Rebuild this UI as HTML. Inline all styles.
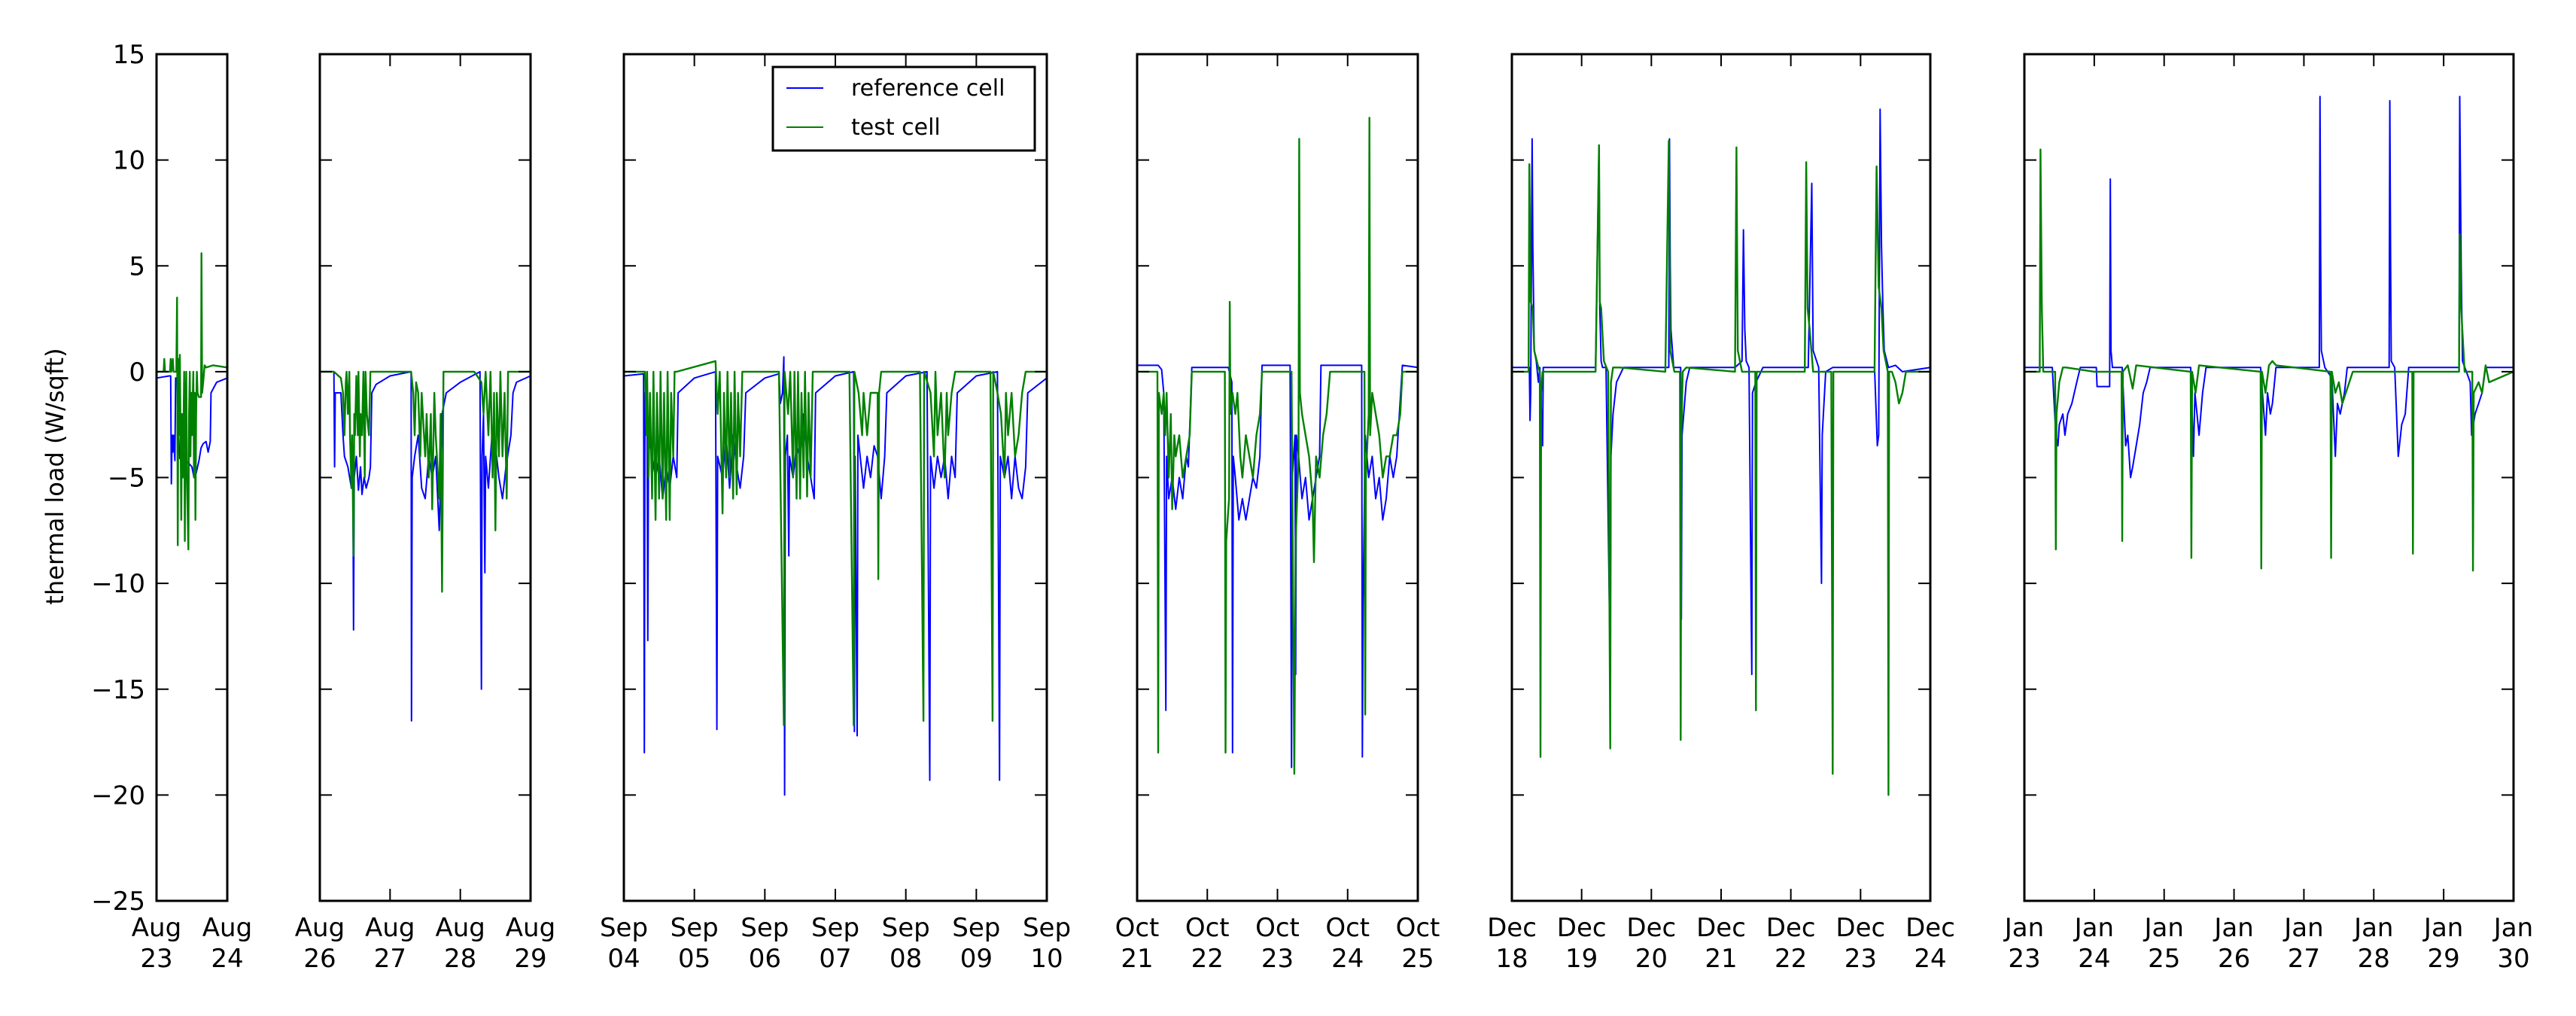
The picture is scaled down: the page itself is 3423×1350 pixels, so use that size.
<!DOCTYPE html>
<html><head><meta charset="utf-8"><style>
html,body{margin:0;padding:0;background:#fff}
svg{display:block;font-family:"DejaVu Sans","Liberation Sans",sans-serif}
</style></head><body>
<svg id="chart" width="3423" height="1350" viewBox="0 0 3423 1350" xmlns="http://www.w3.org/2000/svg">
<rect x="0" y="0" width="3423" height="1350" fill="#fff"/>
<g id="panels"></g>
<text transform="translate(84,633) rotate(-90)" text-anchor="middle" font-size="32">thermal load (W/sqft)</text>
<g>
<rect x="1027" y="89" width="348" height="111" fill="#fff" stroke="#000" stroke-width="3"/>
<line x1="1045" y1="117" x2="1094" y2="117" stroke="#0000ff" stroke-width="2"/>
<text x="1131" y="127" font-size="30">reference cell</text>
<line x1="1045" y1="169" x2="1094" y2="169" stroke="#008000" stroke-width="2"/>
<text x="1131" y="179" font-size="30">test cell</text>
</g>
</svg>
<script>
// y axis
const yTicks = [15, 10, 5, 0, -5, -10, -15, -20, -25];
const yTickLabels = ["15", "10", "5", "0", "\u22125", "\u221210", "\u221215", "\u221220", "\u221225"];
// panel categories
const panelMonths = ["Aug", "Aug", "Sep", "Oct", "Dec", "Jan"];
const panelStartDays = [23, 26, 4, 21, 18, 23];
const panelDays = [1, 3, 6, 4, 6, 7];
// series: [day offset, W/sqft]
const ref1 = [[0,-0.3],[0.18,-0.2],[0.2,-0.2],[0.21,-5.3],[0.22,-3],[0.23,-3.8],[0.24,-3],[0.26,-4.2],[0.27,-0.3],[0.29,-0.3],[0.3,-4],[0.31,-3],[0.33,-4.1],[0.35,-3],[0.37,-4],[0.4,-4.2],[0.45,-4.3],[0.5,-4.5],[0.53,-5],[0.56,-4.8],[0.6,-4.2],[0.63,-3.6],[0.66,-3.4],[0.7,-3.3],[0.73,-3.8],[0.76,-3.3],[0.77,-1],[0.85,-0.5],[1,-0.3]];
const test1 = [[0,0],[0.1,0],[0.11,0.6],[0.12,0],[0.19,0],[0.2,0.6],[0.21,0],[0.23,0.6],[0.24,0],[0.28,0],[0.29,3.5],[0.3,-8.2],[0.31,0.6],[0.32,-3],[0.33,0.8],[0.35,-7],[0.36,-2],[0.37,-5],[0.38,-3],[0.39,0],[0.4,-8],[0.41,-2],[0.42,0],[0.43,-5],[0.45,-8.4],[0.46,-2],[0.47,0],[0.48,-4],[0.49,-1],[0.5,-3],[0.52,0],[0.53,-5],[0.54,-1],[0.55,-7],[0.56,-2],[0.57,0],[0.58,-1],[0.6,-1.2],[0.63,-1.2],[0.635,5.6],[0.645,-1],[0.66,-0.5],[0.68,0.3],[0.7,0.2],[0.8,0.3],[1,0.2]];
const ref2 = [[0,0],[0.2,0],[0.21,-4.5],[0.22,-1],[0.3,-1],[0.33,-3],[0.35,-4],[0.4,-4.5],[0.45,-5.5],[0.47,-5],[0.48,-12.2],[0.49,-5],[0.52,-4],[0.55,-5.6],[0.58,-4.5],[0.6,-5.8],[0.63,-5],[0.66,-5.5],[0.7,-5],[0.72,-4.5],[0.74,-1],[0.8,-0.6],[1.0,-0.2],[1.3,0],[1.305,-16.5],[1.315,-5],[1.35,-4],[1.4,-3],[1.45,-5.5],[1.5,-6],[1.55,-4],[1.6,-5],[1.65,-4],[1.7,-7.5],[1.72,-5],[1.74,-2],[1.8,-1],[2.0,-0.5],[2.28,0],[2.3,-15],[2.31,-4],[2.33,-2],[2.35,-9.5],[2.36,-4],[2.4,-5.5],[2.45,-3],[2.5,-3.5],[2.55,-5],[2.6,-6],[2.65,-4.5],[2.72,-3],[2.75,-1],[2.8,-0.5],[3,-0.2]];
const test2 = [[0,0],[0.2,0],[0.3,-0.3],[0.33,-1],[0.35,-3],[0.37,-0.5],[0.38,0],[0.4,-2],[0.42,0],[0.43,-3],[0.45,-5.5],[0.46,-3],[0.48,-8.7],[0.49,-2],[0.5,-3],[0.52,-0.2],[0.54,-3],[0.55,0],[0.57,-4],[0.58,-2],[0.6,-3],[0.62,0],[0.64,-5],[0.65,0],[0.67,-2],[0.7,-3],[0.72,0],[0.75,0],[1.3,0],[1.33,-1],[1.35,-3],[1.37,-0.5],[1.4,-1],[1.43,-4],[1.45,-1],[1.5,-4],[1.52,-2],[1.55,-5],[1.58,-2],[1.6,-6.5],[1.63,-1],[1.65,-3],[1.7,-6],[1.72,-2],[1.74,-10.4],[1.76,0],[2.2,0],[2.3,-0.5],[2.33,-2],[2.36,0],[2.4,-3],[2.43,0],[2.46,-5],[2.48,-1],[2.5,-7.5],[2.52,-1],[2.55,-4],[2.57,0],[2.6,-4],[2.63,-1],[2.66,-6],[2.68,0],[2.7,0],[3,0]];
const ref3 = [[0,-0.2],[0.28,-0.1],[0.29,-18],[0.3,-1],[0.33,-3],[0.34,-12.7],[0.35,-3],[0.4,-4],[0.45,-5],[0.5,-4],[0.55,-6],[0.6,-4.5],[0.65,-5.5],[0.7,-4],[0.75,-5],[0.77,-1],[1.0,-0.3],[1.3,0],[1.32,-16.9],[1.33,-4],[1.4,-5],[1.45,-3],[1.5,-5.5],[1.55,-3],[1.6,-4.5],[1.65,-5.5],[1.7,-4],[1.73,-1],[2.0,-0.3],[2.2,-0.1],[2.22,-1.5],[2.25,-1],[2.27,0.7],[2.28,-20],[2.29,-4],[2.32,-3],[2.34,-8.7],[2.35,-4],[2.4,-5],[2.45,-3.5],[2.5,-4],[2.55,-2],[2.6,-4],[2.65,-5],[2.7,-6],[2.72,-1],[3.0,-0.2],[3.26,0],[3.27,-17],[3.28,-4],[3.31,-17.2],[3.32,-3],[3.4,-5.5],[3.45,-4],[3.5,-5],[3.55,-3.5],[3.6,-4],[3.65,-6],[3.7,-4],[3.73,-1],[4.0,-0.2],[4.3,0],[4.34,-19.3],[4.35,-4],[4.4,-5.5],[4.45,-4],[4.5,-5],[4.55,-4],[4.6,-6],[4.65,-4],[4.7,-5],[4.73,-1],[5.0,-0.2],[5.3,0],[5.33,-19.3],[5.34,-4],[5.4,-5],[5.45,-4],[5.5,-6],[5.55,-4],[5.6,-5.5],[5.65,-6],[5.7,-4.5],[5.73,-1],[6,-0.3]];
const test3 = [[0,0],[0.3,0],[0.32,-3],[0.33,0],[0.35,-5],[0.37,-1],[0.4,-6],[0.42,0],[0.45,-7],[0.47,-1],[0.5,-6],[0.52,0],[0.55,-6],[0.57,-1],[0.6,-7],[0.62,0],[0.65,-7],[0.67,-1],[0.7,-4],[0.72,0],[0.75,0],[1.3,0.5],[1.33,-2],[1.36,0],[1.4,-6.7],[1.42,-1],[1.45,-5],[1.47,0],[1.5,-5],[1.52,-1],[1.55,-6],[1.57,0],[1.6,-5.8],[1.62,-1],[1.65,-4],[1.68,0],[1.7,0],[2.2,0],[2.27,-16.7],[2.28,0],[2.33,-2],[2.36,0],[2.4,-5],[2.42,0],[2.45,-6],[2.47,0],[2.5,-6],[2.52,-1],[2.55,-5],[2.57,0],[2.6,-5.9],[2.62,-1],[2.65,-5],[2.68,0],[2.7,0],[3.2,0],[3.26,-16.7],[3.27,0],[3.33,-1],[3.38,-3],[3.4,-1],[3.45,-3],[3.5,-1],[3.6,-1],[3.61,-9.8],[3.62,-1],[3.65,0],[3.75,0],[4.2,0],[4.25,-16.5],[4.26,0],[4.35,-1],[4.4,-4],[4.42,0],[4.45,-3],[4.5,-1],[4.55,-5],[4.58,-1],[4.6,-3],[4.65,-1],[4.7,0],[5.2,0],[5.23,-16.5],[5.24,0],[5.3,-1],[5.35,-2],[5.4,-5],[5.42,-1],[5.45,-3],[5.5,-1],[5.55,-4],[5.6,-3],[5.65,-1],[5.7,0],[6,0]];
const ref4 = [[0,0.3],[0.3,0.3],[0.35,0.1],[0.38,-1],[0.41,-16],[0.42,-4],[0.45,-6],[0.5,-5],[0.55,-6.5],[0.6,-5],[0.65,-6],[0.7,-4],[0.73,-4.5],[0.78,0.2],[1.3,0.2],[1.35,-0.5],[1.36,-18],[1.37,-4],[1.4,-5],[1.45,-7],[1.5,-6],[1.55,-7],[1.6,-6],[1.65,-5],[1.7,-5.5],[1.75,-4],[1.78,0.3],[2.18,0.3],[2.2,-18.7],[2.21,-5],[2.25,-3],[2.26,-14.3],[2.27,-3],[2.3,-4],[2.35,-6],[2.4,-5],[2.45,-7],[2.5,-6],[2.55,-5],[2.6,-4],[2.62,0.3],[3.2,0.3],[3.21,-18.2],[3.22,-11],[3.25,-3],[3.3,-5],[3.35,-4],[3.4,-6],[3.45,-5],[3.5,-7],[3.55,-6],[3.6,-4],[3.65,-5],[3.7,-4],[3.78,0.3],[4,0.2]];
const test4 = [[0,0],[0.29,0],[0.3,-18],[0.31,-1],[0.35,-2],[0.38,-1],[0.4,-3],[0.42,-1],[0.45,-5],[0.48,-2],[0.5,-6.5],[0.53,-3],[0.55,-4],[0.6,-3],[0.65,-5],[0.7,-4],[0.75,-3],[0.78,0],[1.25,0],[1.26,-18],[1.27,-8],[1.31,-6],[1.32,3.3],[1.33,-2],[1.36,-1],[1.4,-2],[1.43,-1],[1.47,-4],[1.5,-5],[1.55,-3],[1.6,-4],[1.65,-5],[1.7,-3],[1.75,-2],[1.78,0],[2.2,0],[2.24,-19],[2.26,-8],[2.3,-4],[2.31,11],[2.32,-1],[2.35,-2],[2.4,-3],[2.45,-4],[2.5,-6],[2.52,-9],[2.55,-4],[2.6,-5],[2.65,-3],[2.7,-2],[2.75,0],[3.24,0],[3.25,-16.2],[3.26,-5],[3.3,-2],[3.31,12],[3.32,-3],[3.35,-1],[3.4,-2],[3.45,-3],[3.5,-5],[3.55,-4],[3.6,-4],[3.65,-3],[3.7,-3],[3.75,-2],[3.78,0],[4,0]];
const ref5 = [[0,0.2],[0.25,0.2],[0.26,-2.3],[0.27,-1],[0.29,11],[0.3,6],[0.32,1],[0.35,0.5],[0.38,-0.5],[0.4,0.2],[0.44,-3.5],[0.45,0.2],[0.5,0.2],[1.2,0.2],[1.25,10.7],[1.26,3],[1.28,0.5],[1.3,0.2],[1.35,0.2],[1.41,-14],[1.42,-4],[1.45,-2],[1.5,-0.5],[1.6,0.2],[2.2,0.2],[2.25,0.2],[2.26,11],[2.27,5],[2.28,2],[2.32,0.2],[2.42,0.2],[2.43,-11.7],[2.44,-3],[2.5,-0.5],[2.55,0.2],[3.2,0.2],[3.3,0.5],[3.32,6.7],[3.34,2],[3.36,0.5],[3.4,0.2],[3.44,-14.3],[3.45,-1],[3.5,-0.5],[3.6,0.2],[4.25,0.2],[4.3,8.9],[4.32,1],[4.4,0.2],[4.44,-10],[4.45,-3],[4.5,0],[4.6,0.2],[5.2,0.2],[5.24,-3.5],[5.26,-3],[5.28,12.4],[5.3,6],[5.32,3],[5.34,1],[5.4,0.2],[5.5,0.3],[5.6,0],[6,0.2]];
const test5 = [[0,0],[0.24,0],[0.25,9.8],[0.27,3.3],[0.3,3],[0.32,1],[0.38,0.2],[0.4,0],[0.41,-18.2],[0.42,-1],[0.44,0],[0.5,0],[1.2,0],[1.25,10.7],[1.26,3.3],[1.28,3],[1.32,0.5],[1.38,0],[1.41,-17.8],[1.42,-0.5],[1.45,0.2],[1.55,0.2],[2.2,0],[2.25,10.9],[2.27,1],[2.33,0],[2.41,0],[2.42,-17.4],[2.43,-3],[2.45,0],[2.5,0.2],[3.2,0],[3.22,10.6],[3.24,1],[3.3,0],[3.49,0],[3.5,-16],[3.51,0],[4.2,0],[4.22,9.9],[4.24,3],[4.27,2],[4.32,0],[4.58,0],[4.6,-19],[4.61,0],[5.2,0],[5.23,9.7],[5.26,4],[5.3,3],[5.33,1],[5.39,0],[5.4,-20],[5.41,0],[5.45,0],[5.5,-0.5],[5.55,-1.5],[5.6,-1],[5.65,0],[6,0]];
const ref6 = [[0,0.2],[0.4,0.2],[0.45,-3],[0.48,-3.5],[0.5,-2.5],[0.55,-2],[0.58,-3],[0.62,-2],[0.68,-1.5],[0.75,-0.5],[0.8,0.2],[1.03,0.2],[1.04,-0.7],[1.22,-0.7],[1.23,9.1],[1.24,1],[1.26,0.2],[1.4,0.2],[1.45,-3.5],[1.48,-3],[1.52,-5],[1.55,-4.5],[1.6,-3.5],[1.65,-2.5],[1.7,-1],[1.75,-0.5],[1.8,0.2],[2.38,0.2],[2.42,-4],[2.44,-1],[2.47,-2],[2.5,-3],[2.55,-1],[2.6,0.2],[3.38,0.2],[3.45,-3],[3.48,-1],[3.52,-2],[3.55,-1.5],[3.6,0.2],[4.22,0.2],[4.23,13],[4.24,5.5],[4.25,1],[4.3,0.2],[4.4,-0.3],[4.45,-4],[4.48,-1.5],[4.52,-2],[4.58,-1],[4.62,0.2],[5.22,0.2],[5.23,12.8],[5.24,5.5],[5.25,0.5],[5.3,0.2],[5.35,-4],[5.4,-2.5],[5.45,-2],[5.5,0.2],[6.22,0.2],[6.23,13],[6.25,5],[6.27,0.5],[6.38,-0.5],[6.4,-3],[6.45,-2],[6.5,-1.5],[6.55,-1],[6.6,0.2],[7,0.2]];
const test6 = [[0,0],[0.22,0],[0.23,10.5],[0.25,3],[0.27,0],[0.44,0],[0.45,-8.4],[0.46,-2],[0.5,-0.5],[0.55,0.2],[0.6,0.2],[1.0,0],[1.39,0],[1.4,-8],[1.41,0],[1.48,0.3],[1.55,-0.8],[1.6,0.3],[2.38,0],[2.39,-8.8],[2.4,0],[2.45,-1],[2.5,0.3],[3.38,0],[3.39,-9.3],[3.4,0],[3.45,-1],[3.5,0.3],[3.55,0.5],[3.6,0.3],[4.38,0],[4.39,-8.8],[4.4,0],[4.45,-1],[4.5,-0.5],[4.55,-1.5],[4.6,-1],[4.7,0],[5.55,0],[5.56,-8.6],[5.57,0],[6.22,0],[6.23,6.5],[6.25,3],[6.3,0],[6.41,0],[6.42,-9.4],[6.43,-1],[6.5,-0.5],[6.55,-1],[6.6,0.3],[6.65,-0.5],[7,0]];

const refSeries = [ref1, ref2, ref3, ref4, ref5, ref6];
const testSeries = [test1, test2, test3, test4, test5, test6];

const panelLeft = [208, 425, 829, 1511, 2009, 2690];
const panelRight = [302, 705, 1391, 1884, 2565, 3340];
const TOP = 72, BOTTOM = 1197, YMAX = 15, YMIN = -25;
const NS = "http://www.w3.org/2000/svg";
const root = document.getElementById("panels");
function yScale(v){ return TOP + (YMAX - v) / (YMAX - YMIN) * (BOTTOM - TOP); }
function mk(tag, attrs){ const e = document.createElementNS(NS, tag); for (const k in attrs) e.setAttribute(k, attrs[k]); return e; }
function pad(n){ return n < 10 ? "0" + n : "" + n; }

for (let p = 0; p < 6; p++) {
  const L = panelLeft[p], R = panelRight[p], nd = panelDays[p];
  const xScale = t => L + t / nd * (R - L);
  const g = mk("g", {});
  
  
  root.appendChild(g);
  const mkLine = (arr, color, w, name) => {
    const pl = mk("polyline", {points: arr.map(d => xScale(d[0]).toFixed(1) + "," + yScale(d[1]).toFixed(1)).join(" "), fill: "none", stroke: color, "stroke-width": w, "stroke-linejoin": "round"});
    
    
    g.appendChild(pl);
  };
  mkLine(refSeries[p], "#0000ff", 2, "reference-cell-line");
  mkLine(testSeries[p], "#008000", 2.4, "test-cell-line");
  yTicks.forEach((v, i) => {
    const y = yScale(v);
    const t1 = mk("path", {d: `M${L},${y}h16M${R},${y}h-16`, stroke: "#000", "stroke-width": 2});
    
    
    g.appendChild(t1);
    if (p === 0) {
      const tx = mk("text", {x: L - 15, y: y + 12, "text-anchor": "end", "font-size": 34});
      
      
      tx.textContent = yTickLabels[i];
      g.appendChild(tx);
    }
  });
  for (let d = 0; d <= nd; d++) {
    const x = xScale(d);
    const tk = mk("path", {d: `M${x},${TOP}v16M${x},${BOTTOM}v-16`, stroke: "#000", "stroke-width": 2});
    
    
    g.appendChild(tk);
    const tx = mk("text", {x: x, y: 1244, "text-anchor": "middle", "font-size": 34});
    
    
    const a = mk("tspan", {x: x, dy: 0}); a.textContent = panelMonths[p];
    const b = mk("tspan", {x: x, dy: 41}); b.textContent = pad(panelStartDays[p] + d);
    tx.appendChild(a); tx.appendChild(b);
    g.appendChild(tx);
  }
  const fr = mk("rect", {x: L, y: TOP, width: R - L, height: BOTTOM - TOP, fill: "none", stroke: "#000", "stroke-width": 3});
  
  
  g.appendChild(fr);
}
</script>
</body></html>
